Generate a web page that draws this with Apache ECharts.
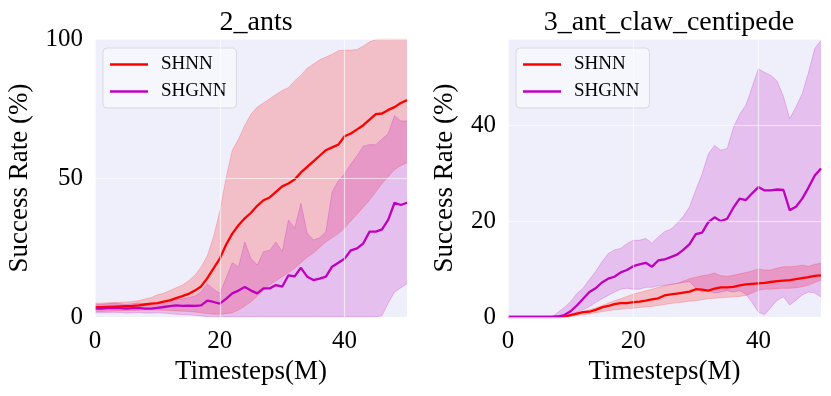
<!DOCTYPE html>
<html>
<head>
<meta charset="utf-8">
<script src="https://cdn.jsdelivr.net/npm/echarts@6/dist/echarts.min.js"></script>
<style>
  html, body { margin: 0; background: #fff; }
  #chart { width: 831px; height: 396px; }
</style>
</head>
<body>
<div id="chart"></div>
<script>
// timesteps (M)
const steps = [0,1,2,3,4,5,6,7,8,9,10,11,12,13,14,15,16,17,18,19,20,21,22,23,24,25,26,27,28,29,30,31,32,33,34,35,36,37,38,39,40,41,42,43,44,45,46,47,48,49,50];

// 2_ants
const antsShnnMean = [3.5,3.5,3.6,3.7,3.8,3.9,4.0,4.2,4.5,4.8,5.0,5.5,6.0,6.8,7.5,8.3,9.5,11.0,14.0,17.5,21.0,26.0,30.0,33.0,35.5,37.5,40.0,42.0,43.0,45.0,47.0,48.0,49.5,52.0,54.0,56.0,58.0,60.0,61.0,62.0,65.0,66.0,67.5,69.0,71.0,73.0,73.2,74.5,75.5,77.0,78.0];
const antsShnnLow = [2.0,2.0,2.1,2.2,2.2,2.3,2.3,2.4,2.5,2.5,2.5,2.4,2.3,2.2,2.1,2.0,1.8,1.5,1.2,1.0,1.0,1.2,1.5,2.5,4.0,5.5,7.5,9.5,11.5,13.0,14.5,16.0,17.5,19.5,21.5,23.0,25.0,27.0,28.5,30.0,32.0,34.5,37.0,39.5,42.0,45.0,48.0,50.5,53.0,54.5,55.5];
const antsShnnHigh = [5.0,5.0,5.1,5.2,5.3,5.4,5.6,5.9,6.5,7.0,8.0,8.5,9.5,10.5,11.5,13.0,15.0,18.0,22.0,29.0,38.0,50.0,60.0,64.0,69.0,73.0,75.5,77.0,78.5,80.0,81.5,82.5,85.0,87.0,89.5,91.0,92.5,93.5,94.5,95.8,96.0,96.0,96.2,97.5,99.0,99.8,100,100,100,100,100];
const antsShgnnMean = [3.0,3.0,3.2,3.3,3.2,3.0,3.2,3.3,3.0,3.0,3.3,3.6,3.9,4.2,4.0,4.1,4.0,4.2,5.9,5.4,4.8,6.5,8.5,9.5,10.8,9.5,8.5,10.3,10.3,11.5,10.9,15.0,14.6,17.7,14.5,13.3,13.8,14.5,18.1,19.5,21.0,24.0,24.7,26.5,30.7,30.7,31.5,35.0,41.1,40.3,41.1];
const antsShgnnLow = [1.5,1.5,1.6,1.7,1.6,1.4,1.5,1.6,1.4,1.4,1.5,1.4,1.2,1.0,0.9,0.8,0.6,0.4,0.2,0,0,0,0,0,0,0,0,0,0,0,0,0,0,0,0,0,0,0,0,0,0,0,0,0,0,0,0.5,5.0,9.0,10.5,12.0];
const antsShgnnHigh = [4.5,4.5,4.8,5.0,4.8,4.5,4.8,5.0,4.8,4.8,5.0,5.5,6.0,6.5,6.5,7.0,7.5,9.0,12.0,10.0,8.5,14.0,19.5,18.0,27.0,21.0,18.7,23.5,24.0,27.0,23.5,34.9,31.9,40.9,30.1,27.7,28.5,30.7,45.0,49.0,51.5,55.0,58.0,61.5,62.0,62.0,64.0,66.0,72.5,70.5,70.5];

// 3_ant_claw_centipede
const cenShnnMean = [0,0,0,0,0,0,0,0,0,0.1,0.4,0.7,1.0,1.1,1.5,2.0,2.3,2.7,2.9,2.9,3.1,3.2,3.4,3.7,3.9,4.5,4.7,4.9,5.1,5.3,5.8,5.7,5.5,5.9,6.2,6.2,6.3,6.6,6.8,6.9,7.0,7.1,7.3,7.5,7.6,7.7,7.9,8.1,8.3,8.6,8.7];
const cenShnnLow = [0,0,0,0,0,0,0,0,0,0,0.1,0.3,0.5,0.7,0.9,1.1,1.3,1.5,1.6,1.8,1.8,2.0,2.1,2.2,2.4,2.6,2.8,3.0,3.1,3.3,3.4,3.6,3.8,3.9,4.0,4.1,4.2,4.3,4.5,5.0,5.6,5.8,5.8,5.9,6.0,6.0,6.1,6.3,6.6,7.2,7.7];
const cenShnnHigh = [0,0,0,0,0,0,0,0,0.1,0.3,0.6,0.9,1.2,1.5,1.9,2.4,2.9,3.4,3.8,4.3,4.8,5.1,5.5,5.8,6.2,6.5,6.8,7.0,7.5,8.0,8.3,8.6,8.8,9.2,8.6,8.5,8.7,9.0,9.3,9.6,10.0,9.8,9.8,10.2,10.5,10.5,10.6,10.8,10.6,11.0,11.2];
const cenShgnnMean = [0,0,0,0,0,0,0,0,0.1,0.4,1.2,2.4,3.8,5.2,6.0,7.2,8.0,8.4,9.3,9.8,10.6,11.0,11.3,10.5,11.8,12.0,12.5,13.0,14.0,15.2,17.3,17.6,19.8,20.8,20.0,20.5,22.8,24.7,24.4,25.8,27.1,26.4,26.4,26.6,26.5,22.3,23.0,24.7,27.0,29.5,31.0];
const cenShgnnLow = [0,0,0,0,0,0,0,0,0,0.2,0.5,1.0,1.5,2.2,3.0,3.8,4.5,5.2,5.8,6.0,5.8,5.8,6.2,6.2,6.5,6.6,6.8,7.0,7.2,7.4,6.0,5.2,5.5,5.0,5.2,5.5,5.2,5.5,4.8,3.0,1.0,0.5,2.0,3.5,4.2,2.5,3.5,4.6,5.2,5.0,4.2];
const cenShgnnHigh = [0,0,0,0,0,0,0,0,1.0,2.0,3.2,4.9,6.0,7.8,9.5,11.5,13.2,14.0,14.3,15.3,16.0,16.0,16.4,15.4,16.7,17.8,18.3,19.5,21.0,23.0,26.5,29.8,34.0,35.8,34.8,35.1,39.5,42.3,44.2,48.0,51.8,51.0,50.4,49.2,46.0,41.4,43.8,46.6,51.0,56.0,57.7];

const RED = '#ff0000';
const MAG = '#bf00bf';
const FONT = 'Liberation Serif';

// shaded band = lower line + stacked (high - low) area
function band(id, idx, low, high, fill, edge) {
  const common = {
    type: 'line', xAxisIndex: idx, yAxisIndex: idx, stack: id,
    symbol: 'none', silent: true, z: 2,
    lineStyle: { color: edge, width: 1 },
  };
  return [
    { ...common, name: id + '_lo', data: low },
    { ...common, name: id + '_hi', data: high.map((v, i) => v - low[i]), areaStyle: { color: fill, opacity: 1 } },
  ];
}

function mean(name, idx, ys, color) {
  return {
    type: 'line', name, xAxisIndex: idx, yAxisIndex: idx, data: ys,
    symbol: 'none', z: 5, lineStyle: { color, width: 2.3 }, itemStyle: { color },
  };
}

const grids = [
  { left: 95, right: 424, top: 39, bottom: 79 },
  { left: 508, right: 10, top: 39, bottom: 79 },
];

const gridLine = { lineStyle: { color: 'rgba(255,255,255,0.6)', width: 1.2 } };

function xAxis(idx) {
  return {
    type: 'category', gridIndex: idx, data: steps, boundaryGap: false, z: 6,
    name: 'Timesteps(M)', nameLocation: 'middle', nameGap: 37,
    nameTextStyle: { fontFamily: FONT, fontSize: 27, color: '#000' },
    axisLine: { show: false }, axisTick: { show: false },
    axisLabel: { fontFamily: FONT, fontSize: 25, color: '#000', margin: 12, interval: 19 },
    splitLine: { show: true, interval: 19, ...gridLine },
  };
}

function yAxis(idx, max, interval, gap) {
  return {
    type: 'value', gridIndex: idx, min: 0, max, interval, z: 6,
    name: 'Success Rate (%)', nameLocation: 'middle', nameGap: gap,
    nameTextStyle: { fontFamily: FONT, fontSize: 27, color: '#000' },
    axisLine: { show: false }, axisTick: { show: false },
    axisLabel: { fontFamily: FONT, fontSize: 25, color: '#000', margin: 12, showMaxLabel: max % interval === 0 },
    splitLine: gridLine,
  };
}

function legend(left) {
  return {
    data: ['SHNN', 'SHGNN'], orient: 'vertical', left, top: 48,
    icon: 'rect', itemWidth: 38, itemHeight: 2.5, itemGap: 8, padding: [7, 10, 7, 7],
    backgroundColor: 'rgba(255,255,255,0.45)', borderColor: '#d9d9e3', borderWidth: 1, borderRadius: 4,
    textStyle: { fontFamily: FONT, fontSize: 19, color: '#000', padding: [0, 0, 0, 8] },
  };
}

const chart = echarts.init(document.getElementById('chart'), null, { renderer: 'canvas' });
chart.setOption({
  animation: false,
  backgroundColor: '#fff',
  title: [
    { text: '2_ants', left: 251, top: 4, textAlign: 'center', textStyle: { fontFamily: FONT, fontSize: 28, fontWeight: 'normal', color: '#000' } },
    { text: '3_ant_claw_centipede', left: 664, top: 4, textAlign: 'center', textStyle: { fontFamily: FONT, fontSize: 28, fontWeight: 'normal', color: '#000' } },
  ],
  legend: [legend(103), legend(516)],
  grid: grids.map(g => ({ ...g, show: true, backgroundColor: '#efeffb', borderWidth: 0 })),
  xAxis: [xAxis(0), xAxis(1)],
  yAxis: [yAxis(0, 100, 50, 62), yAxis(1, 58, 20, 50)],
  series: [
    ...band('antsShnn', 0, antsShnnLow, antsShnnHigh, 'rgba(255,0,0,0.2)', 'rgba(255,0,0,0.18)'),
    ...band('antsShgnn', 0, antsShgnnLow, antsShgnnHigh, 'rgba(191,0,191,0.2)', 'rgba(191,0,191,0.22)'),
    mean('SHNN', 0, antsShnnMean, RED),
    mean('SHGNN', 0, antsShgnnMean, MAG),
    ...band('cenShnn', 1, cenShnnLow, cenShnnHigh, 'rgba(255,0,0,0.2)', 'rgba(255,0,0,0.18)'),
    ...band('cenShgnn', 1, cenShgnnLow, cenShgnnHigh, 'rgba(191,0,191,0.2)', 'rgba(191,0,191,0.22)'),
    mean('SHNN', 1, cenShnnMean, RED),
    mean('SHGNN', 1, cenShgnnMean, MAG),
  ],
});
</script>
</body>
</html>
